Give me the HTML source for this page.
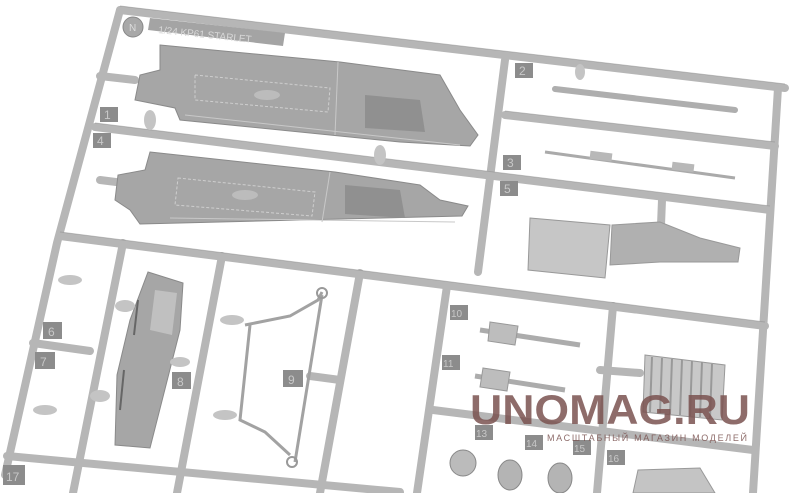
<!DOCTYPE html>
<html><head><meta charset="utf-8"><style>
html,body{margin:0;padding:0;background:#fff;overflow:hidden;}
svg{display:block}
text{font-family:"Liberation Sans",sans-serif}
</style></head><body>
<svg width="800" height="493" viewBox="0 0 800 493" xmlns="http://www.w3.org/2000/svg">
<rect width="800" height="493" fill="#fff"/>
<!-- sprue bars -->
<g stroke="#b6b6b6" stroke-width="8" stroke-linecap="round" fill="none">
 <path d="M120 10 L785 88"/>
 <path d="M120 10 L57 243 L5 475"/>
 <path d="M778 88 L753 493"/>
 <path d="M95 127 L770 210"/>
 <path d="M505 60 L478 272"/>
 <path d="M505 115 L775 146"/>
 <path d="M60 236 L765 326"/>
 <path d="M123 243 L73 493"/>
 <path d="M222 256 L177 493"/>
 <path d="M360 273 L320 493"/>
 <path d="M447 286 L417 493"/>
 <path d="M613 306 L597 493"/>
 <path d="M662 200 L660 250"/>
 <path d="M33 343 L90 351"/>
 <path d="M7 456 L400 492"/>
 <path d="M433 410 L753 450"/>
 <path d="M600 370 L640 373"/>
 <path d="M310 376 L340 380"/>
 <path d="M100 180 L140 185"/>
 <path d="M100 76 L135 80"/>
</g>
<g stroke="#8e8e8e" stroke-width="1" fill="none" opacity="0.5">
 <path d="M120 6 L785 84"/><path d="M95 123 L770 206"/><path d="M60 232 L765 322"/><path d="M505 111 L775 142"/>
</g>
<!-- doors -->
<path d="M160 45 L340 62 L440 75 L460 110 L478 135 L470 146 L400 142 L180 120 L175 108 L135 100 L140 75 L160 70 Z" fill="#a6a6a6" stroke="#8a8a8a"/>
<path d="M150 152 L335 172 L420 185 L440 200 L468 206 L462 216 L140 224 L130 210 L115 200 L118 175 L145 170 Z" fill="#a6a6a6" stroke="#8a8a8a"/>
<path d="M365 95 L420 100 L425 132 L365 128 Z" fill="#909090"/>
<path d="M345 185 L400 190 L405 218 L345 214 Z" fill="#909090"/>
<path d="M195 75 L330 88 L328 112 L195 100 Z M178 178 L315 192 L312 216 L175 205 Z" fill="none" stroke="#cfcfcf" stroke-dasharray="3 2"/>
<path d="M185 115 L460 145 M170 218 L455 222 M338 62 L335 135 M330 172 L322 222" stroke="#c8c8c8" fill="none"/>
<ellipse cx="267" cy="95" rx="13" ry="5" fill="#bcbcbc"/><ellipse cx="245" cy="195" rx="13" ry="5" fill="#bcbcbc"/>
<!-- N and title -->
<path d="M150 18 L285 33 L283 46 L148 30 Z" fill="#a4a4a4"/>
<circle cx="133" cy="27" r="10" fill="#a8a8a8" stroke="#888"/>
<text x="129" y="31" font-size="10" fill="#ddd">N</text>
<text x="158" y="33" font-size="10" fill="#d8d8d8" transform="rotate(6 158 33)">1/24 KP61 STARLET</text>
<!-- rods -->
<path d="M555 89 L735 110" stroke="#aeaeae" stroke-width="6" stroke-linecap="round"/>
<path d="M545 152 L735 178" stroke="#aaaaaa" stroke-width="3"/>
<rect x="590" y="152" width="22" height="8" fill="#b8b8b8" transform="rotate(7 600 156)"/>
<rect x="672" y="163" width="22" height="8" fill="#b8b8b8" transform="rotate(7 683 167)"/>
<!-- gearbox -->
<path d="M530 218 L610 225 L605 278 L528 270 Z" fill="#c6c6c6" stroke="#999"/>
<path d="M612 225 L660 222 L700 238 L740 248 L738 262 L700 262 L660 262 L610 265 Z" fill="#b0b0b0" stroke="#999"/>
<!-- part 8 -->
<path d="M148 272 L183 283 L180 330 L150 448 L115 445 L117 375 L130 320 Z" fill="#a6a6a6" stroke="#8a8a8a"/>
<path d="M155 290 L177 293 L172 335 L150 330 Z" fill="#c0c0c0"/>
<path d="M138 300 L134 335 M124 370 L120 410" stroke="#666" stroke-width="2"/>
<!-- part 9 -->
<path d="M245 325 L290 316 L318 300 L322 292 M250 325 L240 420 L265 432 L290 455 M322 295 L295 462" stroke="#a2a2a2" stroke-width="3" fill="none"/>
<circle cx="322" cy="293" r="5" fill="none" stroke="#999" stroke-width="2"/>
<circle cx="292" cy="462" r="5" fill="none" stroke="#999" stroke-width="2"/>
<!-- small gates -->
<g fill="#c4c4c4">
 <ellipse cx="70" cy="280" rx="12" ry="5"/><ellipse cx="125" cy="306" rx="10" ry="6"/>
 <ellipse cx="100" cy="396" rx="10" ry="6"/><ellipse cx="45" cy="410" rx="12" ry="5"/>
 <ellipse cx="232" cy="320" rx="12" ry="5"/><ellipse cx="225" cy="415" rx="12" ry="5"/>
 <ellipse cx="180" cy="362" rx="10" ry="5"/><ellipse cx="150" cy="120" rx="6" ry="10"/>
 <ellipse cx="380" cy="155" rx="6" ry="10"/><ellipse cx="580" cy="72" rx="5" ry="8"/>
</g>
<!-- shafts -->
<path d="M480 330 L580 345" stroke="#acacac" stroke-width="5"/>
<path d="M490 322 L518 326 L515 345 L488 341 Z" fill="#bdbdbd" stroke="#999"/>
<path d="M475 376 L565 390" stroke="#acacac" stroke-width="5"/>
<path d="M483 368 L510 372 L507 391 L480 387 Z" fill="#bdbdbd" stroke="#999"/>
<!-- radiator -->
<path d="M645 355 L725 365 L722 420 L643 412 Z" fill="#c8c8c8" stroke="#999"/>
<g stroke="#999" stroke-width="2"><path d="M652 357 L650 412 M662 358 L660 413 M672 359 L670 414 M682 360 L680 415 M692 361 L690 416 M702 362 L700 417 M712 364 L710 418"/></g>
<!-- bottom parts -->
<circle cx="463" cy="463" r="13" fill="#bbb" stroke="#888"/>
<ellipse cx="510" cy="475" rx="12" ry="15" fill="#b4b4b4" stroke="#888"/>
<ellipse cx="560" cy="478" rx="12" ry="15" fill="#b4b4b4" stroke="#888"/>
<path d="M638 470 L700 468 L715 493 L633 493 Z" fill="#c4c4c4" stroke="#999"/>
<!-- labels -->
<g fill="#8c8c8c">
 <rect x="100" y="107" width="18" height="15"/><rect x="93" y="133" width="18" height="15"/>
 <rect x="515" y="63" width="18" height="15"/><rect x="503" y="155" width="18" height="15"/>
 <rect x="500" y="181" width="18" height="15"/><rect x="43" y="322" width="19" height="17"/>
 <rect x="35" y="352" width="20" height="17"/><rect x="172" y="372" width="19" height="17"/>
 <rect x="283" y="370" width="20" height="17"/><rect x="450" y="305" width="18" height="15"/>
 <rect x="442" y="355" width="18" height="15"/><rect x="3" y="465" width="22" height="20"/>
 <rect x="475" y="425" width="18" height="15"/><rect x="525" y="435" width="18" height="15"/>
 <rect x="573" y="440" width="18" height="15"/><rect x="607" y="450" width="18" height="15"/>
</g>
<g fill="#c8c8c8" font-size="12">
 <text x="104" y="119">1</text><text x="97" y="145">4</text><text x="519" y="75">2</text>
 <text x="507" y="167">3</text><text x="504" y="193">5</text><text x="48" y="336">6</text>
 <text x="40" y="366">7</text><text x="177" y="386">8</text><text x="288" y="384">9</text>
 <text x="451" y="317" font-size="10">10</text><text x="443" y="367" font-size="10">11</text>
 <text x="6" y="481">17</text><text x="476" y="437" font-size="10">13</text>
 <text x="526" y="447" font-size="10">14</text><text x="574" y="452" font-size="10">15</text>
 <text x="608" y="462" font-size="10">16</text>
</g>
<!-- watermark -->
<text x="470" y="424" font-size="42" font-weight="bold" font-family="Liberation Serif,serif" fill="#7a5250" fill-opacity="0.85" textLength="280" lengthAdjust="spacingAndGlyphs">UNOMAG.RU</text>
<text x="547" y="441" font-size="9" fill="#7a5250" fill-opacity="0.85" textLength="200" lengthAdjust="spacing">МАСШТАБНЫЙ МАГАЗИН МОДЕЛЕЙ</text>
</svg>
</body></html>
